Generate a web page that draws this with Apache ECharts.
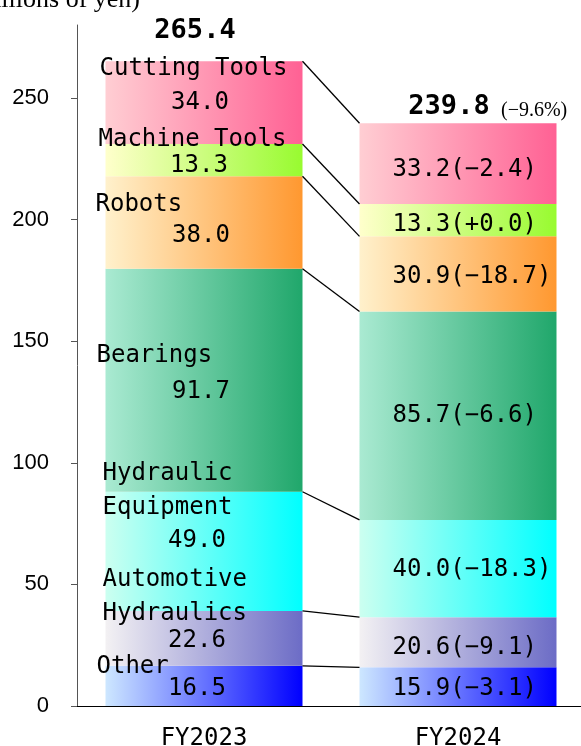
<!DOCTYPE html>
<html lang="en">
<head>
<meta charset="UTF-8">
<title></title>
<script src="https://cdn.jsdelivr.net/npm/echarts@6/dist/echarts.min.js"></script>
<style>
    html, body { margin: 0; padding: 0; background: #fff; }
    #main { width: 581px; height: 746px; }
</style>
</head>
<body>
<div id="main"></div>
<script>
// data, bottom segment first
var categories = ['FY2023', 'FY2024'];
var segments = ['Other', 'Automotive\nHydraulics', 'Hydraulic\nEquipment', 'Bearings', 'Robots', 'Machine Tools', 'Cutting Tools'];
var fy2023 = [16.5, 22.6, 49.0, 91.7, 38.0, 13.3, 34.0];
var fy2024 = [15.9, 20.6, 40.0, 85.7, 30.9, 13.3, 33.2];
var changes = ['−3.1', '−9.1', '−18.3', '−6.6', '−18.7', '+0.0', '−2.4'];
var totals = [265.4, 239.8];
var totalChange = '(−9.6%)';
var yTicks = [0, 50, 100, 150, 200, 250];

// styles
var MONO = 'DejaVu Sans Mono';
var BAR_W = 197;
var colors = [
    ['#cde7ff', '#0000ff'],
    ['#f3f1f3', '#6c6cc6'],
    ['#ccfff0', '#00ffff'],
    ['#aaead2', '#20a76b'],
    ['#fff1cc', '#ff9830'],
    ['#ffffcc', '#98fb30'],
    ['#ffced3', '#ff6194']
];
var off23 = [[-7, 3], [-7, 2], [-7, -11], [-3, 12], [-3, 13], [-5, 6], [-4, 0]];
var off24 = [2, 5, 1, 0, 3, 5, 6];
// name label: x from bar left, y of first line center from segment top
var nameOff = [[-9, 1], [-3, -31], [-3, -18], [-9, 87], [-10, 28], [-7, -4], [-6, 8]];
var totalOff = [[-9, -30], [-9, -16]];

// cumulative tops
var cum23 = [], cum24 = [];
var s1 = 0, s2 = 0;
for (var i = 0; i < segments.length; i++) {
    s1 += fy2023[i]; s2 += fy2024[i];
    cum23.push(s1); cum24.push(s2);
}

var chart = echarts.init(document.getElementById('main'));

var series = [];
segments.forEach(function (name, i) {
    series.push({
        type: 'bar',
        name: name,
        stack: 'total',
        barWidth: BAR_W,
        silent: true,
        itemStyle: {
            color: new echarts.graphic.LinearGradient(0, 0, 1, 0, [
                { offset: 0, color: colors[i][0] },
                { offset: 1, color: colors[i][1] }
            ])
        },
        label: { fontFamily: MONO, fontSize: 24, color: '#000' },
        data: [
            { value: fy2023[i], label: { show: true, position: 'inside', offset: off23[i], formatter: fy2023[i].toFixed(1) } },
            { value: fy2024[i], label: { show: true, position: 'insideLeft', distance: 33, offset: [0, off24[i]], formatter: fy2024[i].toFixed(1) + '(' + changes[i] + ')' } }
        ]
    });
});

// connector lines between the segment tops
series.push({
    type: 'custom',
    silent: true,
    z: 5,
    data: cum23.map(function (v, i) { return [0, v]; }),
    renderItem: function (params, api) {
        var i = params.dataIndex;
        var p1 = api.coord([0, cum23[i]]);
        var p2 = api.coord([1, cum24[i]]);
        return {
            type: 'line',
            shape: { x1: p1[0] + BAR_W / 2, y1: p1[1], x2: p2[0] - BAR_W / 2, y2: p2[1] },
            style: { stroke: '#000', lineWidth: 1.3 }
        };
    }
});

// segment names on FY2023
series.push({
    type: 'custom',
    silent: true,
    z: 6,
    data: cum23.map(function (v, i) { return [0, v]; }),
    renderItem: function (params, api) {
        var i = params.dataIndex;
        var p = api.coord([0, cum23[i]]);
        return {
            type: 'text',
            x: p[0] - BAR_W / 2 + nameOff[i][0],
            y: p[1] + nameOff[i][1] - 17,
            style: {
                text: segments[i],
                font: '24px "' + MONO + '"',
                fill: '#000',
                textAlign: 'left',
                textVerticalAlign: 'top',
                lineHeight: 34
            }
        };
    }
});

// totals
series.push({
    type: 'custom',
    silent: true,
    z: 6,
    data: totals.map(function (v, i) { return [i, v]; }),
    renderItem: function (params, api) {
        var i = params.dataIndex;
        var p = api.coord([i, i === 0 ? cum23[cum23.length - 1] : cum24[cum24.length - 1]]);
        var x = p[0] + totalOff[i][0], y = p[1] + totalOff[i][1];
        var children = [{
            type: 'text',
            x: x, y: y,
            style: {
                text: totals[i].toFixed(1),
                font: 'bold 27px "' + MONO + '"',
                fill: '#000',
                textAlign: 'center',
                textVerticalAlign: 'middle'
            }
        }];
        if (i === 1) {
            children.push({
                type: 'text',
                x: x + 52, y: y + 3,
                style: {
                    text: totalChange,
                    font: '20px "Liberation Serif"',
                    fill: '#000',
                    textAlign: 'left',
                    textVerticalAlign: 'middle'
                }
            });
        }
        return { type: 'group', children: children };
    }
});

var option = {
    animation: false,
    grid: { left: 77, right: -4, top: 25, bottom: 40, containLabel: false, outerBoundsMode: 'none' },
    graphic: [{
        type: 'text',
        x: 140, y: 0,
        style: {
            text: '(Billions of yen)',
            font: '26px "Liberation Serif"',
            fill: '#000',
            textAlign: 'right',
            textVerticalAlign: 'middle'
        }
    }],
    xAxis: {
        type: 'category',
        data: categories,
        axisLine: { lineStyle: { color: '#000', width: 1 } },
        axisTick: { length: 6, lineStyle: { color: '#555' } },
        axisLabel: { fontFamily: MONO, fontSize: 24, color: '#000', margin: 21 }
    },
    yAxis: {
        type: 'value',
        min: 0,
        max: 280,
        interval: 50,
        axisLine: { show: true, lineStyle: { color: '#555' } },
        axisTick: { show: true, length: 6, customValues: yTicks, lineStyle: { color: '#555' } },
        axisLabel: { customValues: yTicks, margin: 28, fontFamily: 'Liberation Sans', fontSize: 22, color: '#000' },
        splitLine: { show: false }
    },
    series: series
};
chart.setOption(option);
</script>
</body>
</html>
